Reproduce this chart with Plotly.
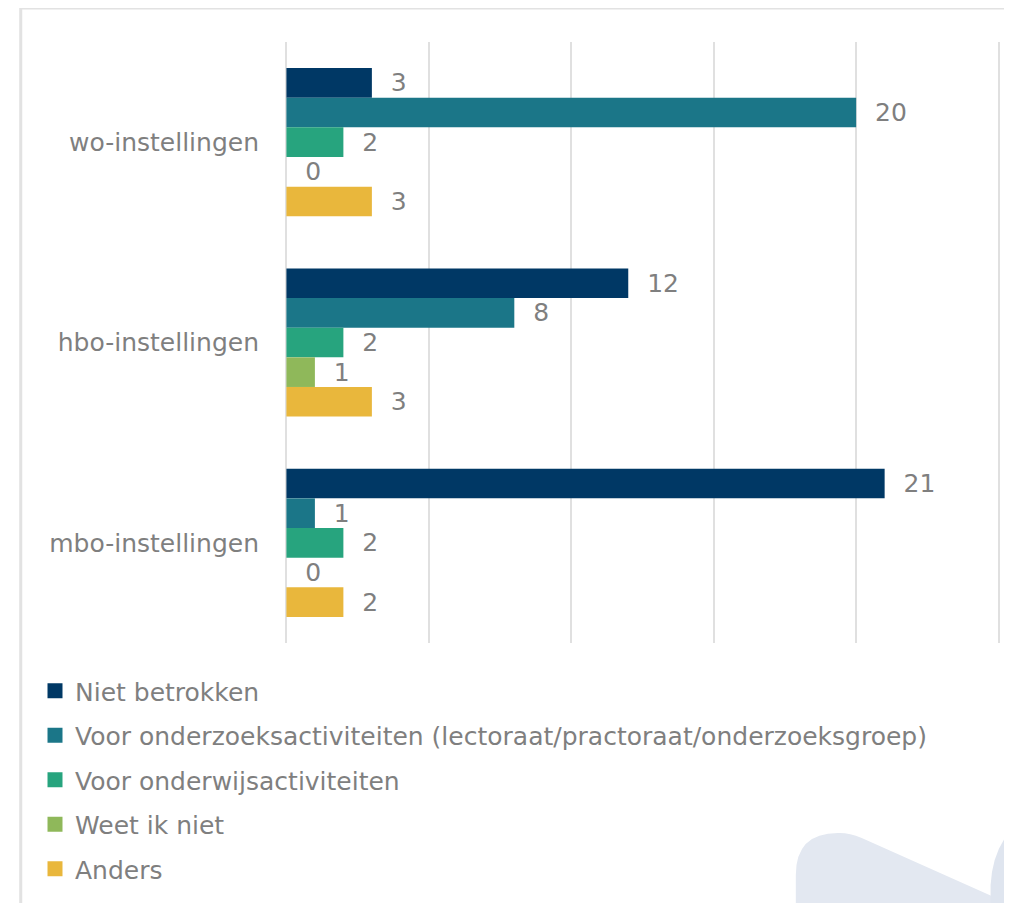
import plotly.graph_objects as go

categories = ["wo-instellingen", "hbo-instellingen", "mbo-instellingen"]
series_names = [
    "Niet betrokken",
    "Voor onderzoeksactiviteiten (lectoraat/practoraat/onderzoeksgroep)",
    "Voor onderwijsactiviteiten",
    "Weet ik niet",
    "Anders",
]
niet_betrokken = [3, 12, 21]
onderzoek = [20, 8, 1]
onderwijs = [2, 2, 2]
weet_niet = [0, 1, 0]
anders = [3, 3, 2]
series_values = [niet_betrokken, onderzoek, onderwijs, weet_niet, anders]
colors = ["#003865", "#1b7688", "#27a47e", "#8fb85a", "#e9b73c"]

FONT = "DejaVu Sans, Verdana, sans-serif"
GRAY = "#7f7f7f"
GRID = "#e0e0e0"

W, H = 1012, 903
OFF = 8  # page body margin
XMIN, XMAX, PAD = 0, 25, 0.12
# value 0 -> screen x 286, value 25 -> screen x 999; plot y 42..643
unit = (999 - 286) / (XMAX - XMIN)
L = 286 - OFF - PAD * unit
R = W - (999 - OFF + PAD * unit)
T, B = 42 - OFF, H - (643 - OFF)
pw, ph = W - L - R, H - T - B


def px(x):
    return (x - OFF - L) / pw


def py(y):
    return (H - B - (y - OFF)) / ph


fig = go.Figure()
for name, vals, col in zip(series_names, series_values, colors):
    fig.add_trace(go.Bar(
        y=categories, x=vals, name=name, orientation="h",
        marker=dict(color=col, line=dict(width=0)),
        text=vals, texttemplate="\u00a0\u00a0%{x}", textposition="outside",
        textfont=dict(family=FONT, size=25, color=GRAY),
        cliponaxis=False, showlegend=False,
    ))
# legend entries (square swatches)
for name, col in zip(series_names, colors):
    fig.add_trace(go.Scatter(
        x=[None], y=[None], mode="markers", name=name,
        marker=dict(symbol="square", size=15, color=col, line=dict(width=0)),
        legendgroup=name, showlegend=True,
    ))

shapes = [
    dict(type="rect", xref="paper", yref="paper",
         x0=px(20), x1=px(1040), y0=py(960), y1=py(8),
         line=dict(color="#e2e2e2", width=3), layer="below"),
    # decorative background blobs
    dict(type="path", xref="paper", yref="paper", layer="below",
         path=(f"M {px(796)},{py(910)} L {px(796)},{py(875)} "
               f"Q {px(796)},{py(832)} {px(840)},{py(833)} "
               f"Q {px(850)},{py(833)} {px(862)},{py(838)} "
               f"L {px(1012)},{py(905)} L {px(1012)},{py(910)} Z"),
         fillcolor="#e3e8f1", line=dict(width=0)),
    dict(type="path", xref="paper", yref="paper", layer="below",
         path=(f"M {px(991)},{py(910)} L {px(991)},{py(885)} "
               f"Q {px(993)},{py(850)} {px(1012)},{py(830)} "
               f"L {px(1012)},{py(910)} Z"),
         fillcolor="#dfe5ef", line=dict(width=0)),
]

fig.update_layout(
    width=W, height=H,
    margin=dict(l=L, r=R, t=T, b=B, autoexpand=False),
    paper_bgcolor="white", plot_bgcolor="rgba(0,0,0,0)",
    barmode="group", bargap=0.26, bargroupgap=0,
    font=dict(family=FONT, size=25, color=GRAY),
    xaxis=dict(range=[XMIN - PAD, XMAX + PAD], tickmode="linear", tick0=0,
               dtick=5, showticklabels=False,
               showgrid=True, gridcolor=GRID, gridwidth=2,
               zeroline=True, zerolinecolor=GRID, zerolinewidth=2,
               showline=False, fixedrange=True, automargin=False),
    yaxis=dict(autorange="reversed", showgrid=False, zeroline=False,
               showline=False, ticks="",
               ticklabelstandoff=23,
               automargin=False,
               tickfont=dict(family=FONT, size=25, color=GRAY)),
    legend=dict(xref="container", yref="container",
                x=27 / W, y=1 - 660 / H,
                xanchor="left", yanchor="top",
                orientation="v", tracegroupgap=9,
                font=dict(family=FONT, size=25, color=GRAY),
                itemwidth=30, bgcolor="rgba(0,0,0,0)"),
    shapes=shapes,
    showlegend=True,
)

fig.write_html("out.html")
